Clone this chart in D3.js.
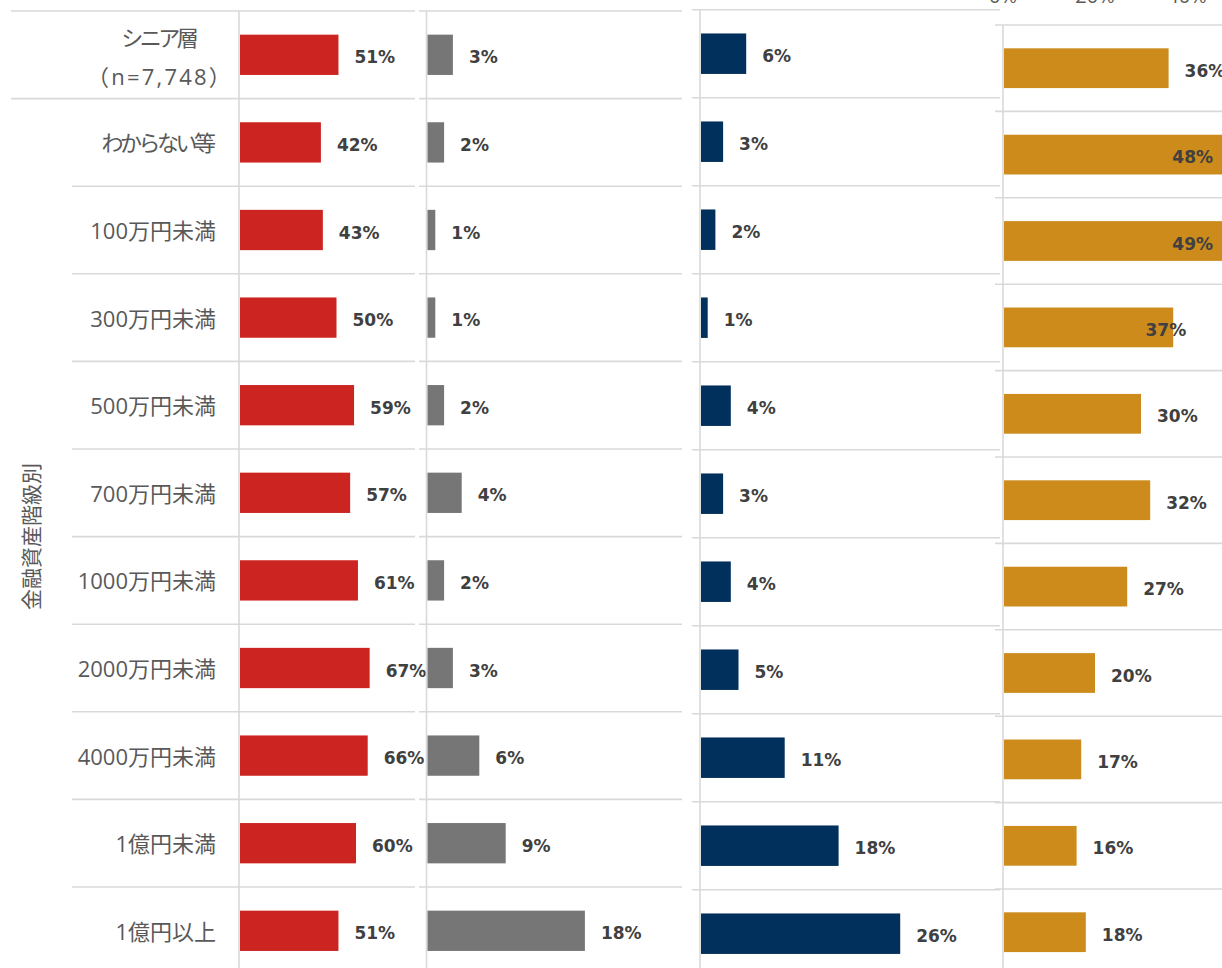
<!DOCTYPE html>
<html lang="ja">
<head>
<meta charset="utf-8">
<script src="https://cdn.jsdelivr.net/npm/d3@7"></script>
<style>
  html, body { margin: 0; padding: 0; background: #fff; }
  svg { display: block; }
  .cat { font-family: "Open Sans", "Noto Sans CJK JP", sans-serif; fill: #595959; }
  .count { letter-spacing: 2.2px; }
  .kana { letter-spacing: -3.5px; }
  .val { font-family: "DejaVu Sans", Verdana, sans-serif; font-weight: bold; fill: #404040; }
</style>
</head>
<body>
<svg id="chart" width="1222" height="968"></svg>
<script>
// Asset-bracket categories (first row is the whole senior group)
const categories = ["シニア層", "わからない等", "100万円未満", "300万円未満", "500万円未満",
  "700万円未満", "1000万円未満", "2000万円未満", "4000万円未満", "1億円未満", "1億円以上"];
const totalLabel = ["シニア層", "（n=7,748）"];
const groupTitle = "金融資産階級別";

// Share (%) per category for each of the four items
const seriesRed  = [51, 42, 43, 50, 59, 57, 61, 67, 66, 60, 51];
const seriesGray = [3, 2, 1, 1, 2, 4, 2, 3, 6, 9, 18];
const seriesNavy = [6, 3, 2, 1, 4, 3, 4, 5, 11, 18, 26];
const seriesGold = [36, 48, 49, 37, 30, 32, 27, 20, 17, 16, 18];

// Percent ticks of the last panel's axis
const goldTicks = [0, 20, 40];

const svg = d3.select("#chart");
const W = 1222;
const gridColor = "#d9d9d9";

// Writes a label with kana set proportionally (tighter) next to kanji and digits
function setLabel(sel, str) {
  sel.text(null);
  const runs = str.match(/[\u3040-\u30ff]+|[^\u3040-\u30ff]+/g) || [];
  runs.forEach(r => {
    sel.append("tspan")
      .attr("class", /[\u3040-\u30ff]/.test(r) ? "kana" : null)
      .text(r);
  });
}

// Panel layout: zero line, pixels per percent, row geometry, grid span
const panels = [
  { values: seriesRed,  color: "#cc2421", x0: 239,   ppp: 1.95, top: 11,  step: 87.6, gx: [72, 415] },
  { values: seriesGray, color: "#767676", x0: 426.5, ppp: 8.8,  top: 11,  step: 87.6, gx: [419, 682] },
  { values: seriesNavy, color: "#02305c", x0: 700,   ppp: 7.7,  top: 9.7, step: 88.0, gx: [692, 1000] },
  { values: seriesGold, color: "#cc8b1a", x0: 1003,  ppp: 4.6,  top: 25,  step: 86.4, gx: [995, 1222] }
];

panels.forEach((p, pi) => {
  const n = categories.length;
  const y = d3.scaleBand()
    .domain(categories)
    .range([p.top, p.top + n * p.step])
    .paddingInner(0.54)
    .paddingOuter(0.27);
  const x = d3.scaleLinear().domain([0, 100]).range([p.x0, p.x0 + p.ppp * 100]);

  const g = svg.append("g");

  // horizontal row separators
  const rows = d3.range(n + 1);
  g.selectAll("line.row").data(rows).join("line")
    .attr("class", "row")
    .attr("x1", i => (pi === 0 && i <= 1) ? 11 : p.gx[0])
    .attr("x2", p.gx[1])
    .attr("y1", i => p.top + i * p.step)
    .attr("y2", i => p.top + i * p.step)
    .attr("stroke", gridColor)
    .attr("stroke-width", 1.6);

  // zero line
  g.append("line")
    .attr("x1", x(0)).attr("x2", x(0))
    .attr("y1", p.top).attr("y2", 968)
    .attr("stroke", gridColor)
    .attr("stroke-width", 1.6);

  // bars
  g.selectAll("rect.bar").data(p.values).join("rect")
    .attr("class", "bar")
    .attr("x", x(0) + 1)
    .attr("y", (d, i) => y(categories[i]))
    .attr("width", d => x(d) - x(0) - 1)
    .attr("height", y.bandwidth())
    .attr("fill", p.color);

  // value labels; ones that would run off the right edge sit at the bar's end
  g.selectAll("text.val").data(p.values).join("text")
    .attr("class", "val")
    .attr("font-size", 17)
    .attr("y", (d, i) => y(categories[i]) + y.bandwidth() / 2 + 8.5)
    .each(function (d) {
      const end = x(d);
      const t = d3.select(this).text(d + "%");
      const w = this.getComputedTextLength();
      if (end + 16 + w > W + 4) {
        t.attr("text-anchor", "end").attr("x", Math.min(end + 13, W - 9));
      } else {
        t.attr("text-anchor", "start").attr("x", end + 16);
      }
    });

  // percent axis labels for the last panel (top edge)
  if (pi === 3) {
    g.selectAll("text.tick").data(goldTicks).join("text")
      .attr("class", "cat")
      .attr("font-size", 20)
      .attr("text-anchor", "middle")
      .attr("x", d => x(d))
      .attr("y", 3)
      .text(d => d + "%");
  }

  // category labels come from the first panel's rows
  if (pi === 0) {
    const lab = svg.append("g");
    lab.selectAll("text.cat").data(categories.slice(1)).join("text")
      .attr("class", "cat")
      .attr("font-size", 22)
      .attr("text-anchor", "end")
      .attr("dominant-baseline", "central")
      .attr("x", 216)
      .attr("y", d => y(d) + y.bandwidth() / 2)
      .each(function (d) { setLabel(d3.select(this), d); });

    const c = y(categories[0]) + y.bandwidth() / 2;
    lab.selectAll("text.total").data(totalLabel).join("text")
      .attr("class", (d, i) => i === 0 ? "cat total" : "cat count total")
      .attr("font-size", 22)
      .attr("text-anchor", "middle")
      .attr("dominant-baseline", "central")
      .attr("x", 160)
      .attr("y", (d, i) => c - 18 + i * 39)
      .each(function (d) { setLabel(d3.select(this), d); });

    const midY = (y(categories[1]) + y(categories[n - 1]) + y.bandwidth()) / 2;
    lab.append("text")
      .attr("class", "cat")
      .attr("font-size", 21)
      .attr("text-anchor", "middle")
      .attr("dominant-baseline", "central")
      .attr("transform", `translate(31,${midY}) rotate(-90)`)
      .text(groupTitle);
  }
});
</script>
</body>
</html>
